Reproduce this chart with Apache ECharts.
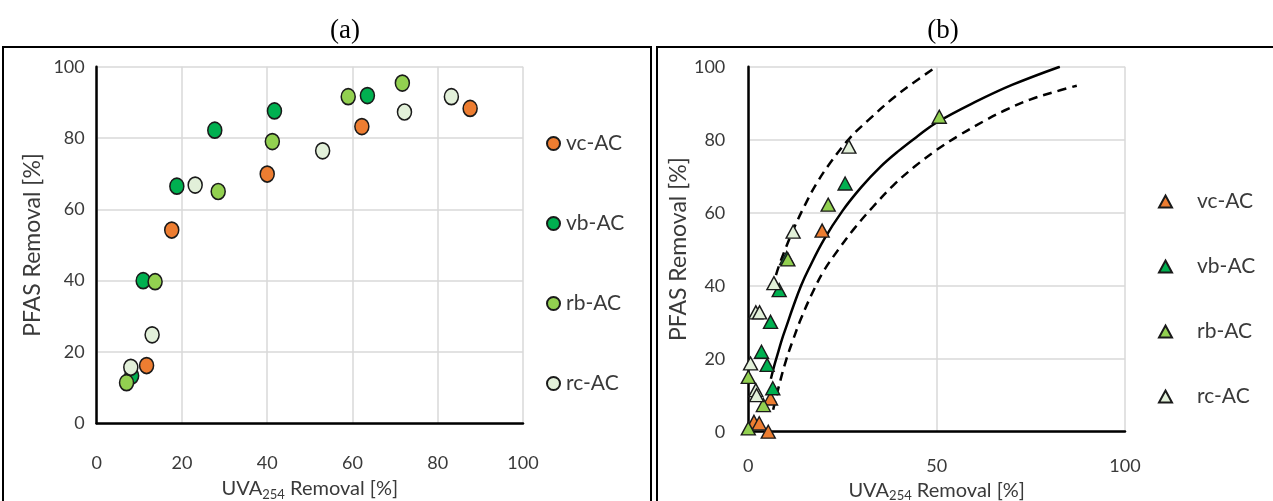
<!DOCTYPE html>
<html>
<head>
<meta charset="utf-8">
<title>PFAS vs UVA254 removal</title>
<script src="https://cdn.jsdelivr.net/npm/echarts@6/dist/echarts.min.js"></script>
<style>
  html, body { margin: 0; padding: 0; background: #ffffff; }
  #chart { width: 1273px; height: 501px; }
</style>
</head>
<body>
<div id="chart"></div>
<script>
// Series names shared by both panels
const seriesNames = ['vc-AC', 'vb-AC', 'rb-AC', 'rc-AC'];
const seriesColors = ['#ED7D31', '#00B050', '#92D050', '#E2F0D9'];

// Panel (a): PFAS removal vs UVA254 removal, [UVA254 %, PFAS %]
const panelA_vc = [[11.7, 16.2], [17.6, 54.2], [40.0, 69.9], [62.2, 83.2], [87.6, 88.3]];
const panelA_vb = [[8.2, 13.3], [10.9, 40.0], [18.8, 66.5], [27.7, 82.2], [41.7, 87.6], [63.5, 91.9]];
const panelA_rb = [[7.0, 11.4], [13.7, 39.7], [28.5, 65.0], [41.2, 79.0], [59.0, 91.6], [71.7, 95.4]];
const panelA_rc = [[8.0, 15.7], [13.0, 24.8], [23.1, 66.8], [53.0, 76.4], [72.2, 87.3], [83.2, 91.6]];

// Panel (b): second data set, [UVA254 %, PFAS %]
const panelB_vc = [[1.5, 2.7], [2.9, 2.3], [5.3, 0.0], [5.9, 9.1], [19.6, 55.1]];
const panelB_vb = [[3.5, 21.9], [5.0, 18.3], [5.9, 30.1], [6.5, 11.9], [8.2, 38.8], [10.2, 47.6], [25.7, 68.0]];
const panelB_rb = [[0.0, 0.9], [0.0, 15.0], [4.0, 7.3], [10.5, 47.2], [21.2, 62.2], [50.7, 86.3]];
const panelB_rc = [[0.6, 18.7], [2.0, 11.4], [2.2, 10.0], [2.0, 32.7], [3.0, 32.7], [6.8, 40.7], [11.9, 54.8], [26.7, 78.1]];

// Panel (b): fitted trend and its upper / lower bounds
const fitCentre = [[6, 14.5], [7, 18.5], [8, 22], [9, 25.5], [10, 28.5], [12, 34.5], [14, 40], [16, 44.5], [20, 52.5], [25, 60.5], [30, 67], [35, 72.5], [40, 77], [45, 81], [50, 84.7], [60, 90.2], [70, 95], [82.7, 100]];
const fitUpper = [[6.2, 39], [8, 45], [10, 50.5], [12, 55.5], [15, 62], [18, 67.8], [22, 74], [27, 80.5], [32, 85.5], [38, 91], [43, 95], [50, 100]];
const fitLower = [[6.6, 6], [8, 12], [10, 19.5], [12, 25.5], [14, 31], [17, 38], [20, 44], [24, 50], [28, 55.5], [33, 61.5], [38.5, 67.5], [44, 72.5], [50, 77.2], [56, 81.2], [62.4, 85], [68, 88], [74.8, 91], [81, 93], [87.2, 94.8]];

// Axis ticks
const axisA_x = { min: 0, max: 100, interval: 20 };
const axisA_y = { min: 0, max: 100, interval: 20 };
const axisB_x = { min: 0, max: 100, interval: 50 };
const axisB_y = { min: 0, max: 100, interval: 20 };

const FONT = 'Lato';
const TXT = '#3a3a3a';

const pointsA = [panelA_vc, panelA_vb, panelA_rb, panelA_rc];
const pointsB = [panelB_vc, panelB_vb, panelB_rb, panelB_rc];

function xAxisCfg(gridIndex, ticks, labelMargin, nameGap) {
  return {
    gridIndex, type: 'value', min: ticks.min, max: ticks.max, interval: ticks.interval,
    name: '{n|UVA}{s|254}{n| Removal [%]}',
    nameLocation: 'middle', nameGap,
    nameTextStyle: {
      rich: {
        n: { fontFamily: FONT, fontSize: 20, color: TXT },
        s: { fontFamily: FONT, fontSize: 13, color: TXT, verticalAlign: 'bottom', padding: [12, 0, 0, 0] }
      }
    },
    axisLine: { show: true, onZero: false, lineStyle: { color: '#000', width: 2.5 } },
    axisTick: { show: false },
    axisLabel: { fontFamily: FONT, fontSize: 18, color: TXT, margin: labelMargin },
    splitLine: { show: true, lineStyle: { color: '#d9d9d9', width: 1.5 } }
  };
}

function yAxisCfg(gridIndex, ticks, labelMargin, nameGap) {
  return {
    gridIndex, type: 'value', min: ticks.min, max: ticks.max, interval: ticks.interval,
    name: 'PFAS Removal [%]', nameLocation: 'middle', nameGap,
    nameTextStyle: { fontFamily: FONT, fontSize: 23, color: TXT },
    axisLine: { show: true, onZero: false, lineStyle: { color: '#000', width: 2.5 } },
    axisTick: { show: false },
    axisLabel: { fontFamily: FONT, fontSize: 18, color: TXT, margin: labelMargin },
    splitLine: { show: true, lineStyle: { color: '#d9d9d9', width: 1.5 } }
  };
}

const series = [];
seriesNames.forEach((name, i) => {
  series.push({
    name, type: 'scatter', xAxisIndex: 0, yAxisIndex: 0,
    symbol: 'circle', symbolSize: [14, 16],
    itemStyle: { color: seriesColors[i], borderColor: '#1a1a1a', borderWidth: 1.6, opacity: 1 },
    data: pointsA[i], z: 3
  });
});

function fitLine(data, dashed) {
  return {
    type: 'line', xAxisIndex: 1, yAxisIndex: 1, data, smooth: 0.4, showSymbol: false,
    symbol: 'none', silent: true,
    lineStyle: { color: '#000', width: 2.5, type: dashed ? [9, 6] : 'solid' }, z: 2
  };
}
series.push(fitLine(fitCentre, false));
series.push(fitLine(fitUpper, true));
series.push(fitLine(fitLower, true));

seriesNames.forEach((name, i) => {
  series.push({
    name, type: 'scatter', xAxisIndex: 1, yAxisIndex: 1,
    symbol: 'triangle', symbolSize: [14, 13],
    itemStyle: { color: seriesColors[i], borderColor: '#1a1a1a', borderWidth: 1.4, opacity: 1 },
    data: pointsB[i], z: 4
  });
});

const option = {
  backgroundColor: '#ffffff',
  animation: false,
  title: [
    { text: '(a)', left: 340, top: 12, textAlign: 'center',
      textStyle: { fontFamily: 'Liberation Serif', fontSize: 27, fontWeight: 'normal', color: '#000' } },
    { text: '(b)', left: 938, top: 12, textAlign: 'center',
      textStyle: { fontFamily: 'Liberation Serif', fontSize: 27, fontWeight: 'normal', color: '#000' } }
  ],
  graphic: [
    { type: 'rect', shape: { x: 3, y: 47, width: 648, height: 480 },
      style: { fill: 'none', stroke: '#000', lineWidth: 2 }, silent: true },
    { type: 'rect', shape: { x: 657, y: 47, width: 640, height: 480 },
      style: { fill: 'none', stroke: '#000', lineWidth: 2 }, silent: true }
  ],
  grid: [
    { left: 96.7, right: 750, top: 66.7, bottom: 77.7, containLabel: false, outerBoundsMode: 'none' },
    { left: 748.3, right: 148, top: 66.7, bottom: 69.3, containLabel: false, outerBoundsMode: 'none' }
  ],
  xAxis: [xAxisCfg(0, axisA_x, 31, 53), xAxisCfg(1, axisB_x, 25, 46)],
  yAxis: [yAxisCfg(0, axisA_y, 12, 53), yAxisCfg(1, axisB_y, 23, 42)],
  legend: [
    {
      orient: 'vertical', left: 541, top: 128, itemGap: 59,
      itemWidth: 13, itemHeight: 13, selectedMode: false,
      data: seriesNames.map(n => ({ name: n, icon: 'circle' })),
      textStyle: { fontFamily: FONT, fontSize: 21, color: TXT, lineHeight: 21, padding: [0, 0, 0, 1] }
    },
    {
      orient: 'vertical', left: 1153, top: 186, itemGap: 44,
      itemWidth: 13, itemHeight: 12, selectedMode: false,
      data: seriesNames.map(n => ({ name: n, icon: 'triangle' })),
      textStyle: { fontFamily: FONT, fontSize: 21, color: TXT, lineHeight: 20, padding: [0, 0, 0, 20] }
    }
  ],
  series
};

const chart = echarts.init(document.getElementById('chart'), null, { renderer: 'canvas' });
chart.setOption(option);
</script>
</body>
</html>
